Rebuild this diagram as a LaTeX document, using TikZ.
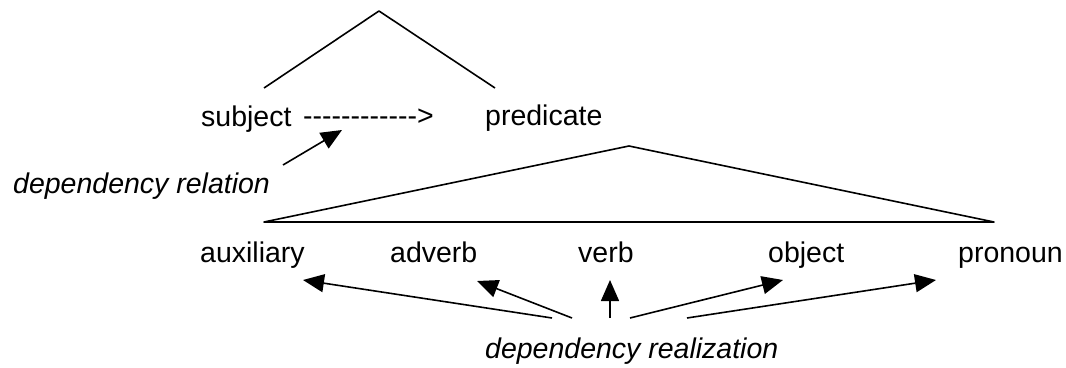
\documentclass[tikz,border=0pt]{standalone}
\usepackage{fontspec}
\newfontfamily\arial{Liberation Sans}
\usetikzlibrary{arrows.meta}
\begin{document}
\begin{tikzpicture}[x=1pt,y=-1pt,
  lbl/.style={font=\arial\fontsize{28.5}{30}\selectfont, inner sep=0pt, anchor=base west},
  ilbl/.style={lbl, font=\arial\itshape\fontsize{28.5}{30}\selectfont},
  ln/.style={line width=1.6pt, line join=round},
  arr/.style={line width=1.6pt, -{Triangle[length=21pt,width=18pt]}}]
\useasboundingbox (0,0) rectangle (1066,367);
% top tree
\coordinate (top) at (379,11);
\coordinate (sl) at (264,88);
\coordinate (sr) at (495,88);
\draw[ln] (sl) -- (top) -- (sr);
\node[lbl] (subj) at (201,126) {subject};
\node[lbl] (dash) at (303,125) {------------>};
\node[lbl] (pred) at (485,125) {predicate};
% dependency relation
\node[ilbl] (deprel) at (13,193) {dependency relation};
\coordinate (drs) at (283,165);
\coordinate (drt) at (342,130);
\draw[arr] (drs) -- (drt);
% big triangle
\coordinate (bl) at (264,222);
\coordinate (bt) at (629,146);
\coordinate (br) at (994,222);
\draw[ln] (bl) -- (bt) -- (br) -- cycle;
% bottom labels
\node[lbl] (aux) at (200,262) {auxiliary};
\node[lbl] (adv) at (390,262) {adverb};
\node[lbl] (verb) at (578,262) {verb};
\node[lbl] (obj) at (768,262) {object};
\node[lbl] (pron) at (958,262) {pronoun};
\node[ilbl] (deprea) at (485,358) {dependency realization};
% realization arrows
\coordinate (s1) at (552,318); \coordinate (t1) at (303,280);
\coordinate (s2) at (572,318); \coordinate (t2) at (477,281);
\coordinate (s3) at (610,318); \coordinate (t3) at (610,280);
\coordinate (s4) at (630,318); \coordinate (t4) at (783,280);
\coordinate (s5) at (687,318); \coordinate (t5) at (936,280);
\draw[arr] (s1) -- (t1);
\draw[arr] (s2) -- (t2);
\draw[arr] (s3) -- (t3);
\draw[arr] (s4) -- (t4);
\draw[arr] (s5) -- (t5);
\end{tikzpicture}
\end{document}
